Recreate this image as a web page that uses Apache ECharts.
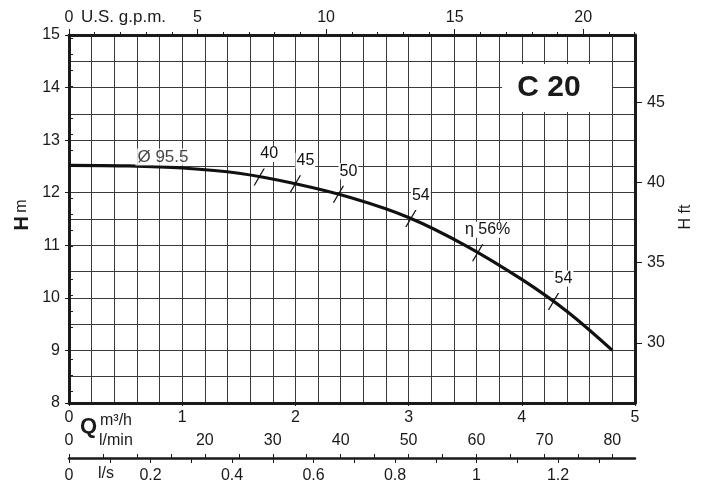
<!DOCTYPE html>
<html><head><meta charset="utf-8">
<script src="https://cdn.jsdelivr.net/npm/echarts@6/dist/echarts.min.js"></script>
<style>html,body{margin:0;padding:0;background:#fff}#c{width:708px;height:487px}</style>
</head><body><div id="c"></div>
<script>
// ---- data ----
const qM3h  = [0, 0.5, 1, 1.5, 2, 2.5, 3, 3.5, 4, 4.4, 4.8];
const headM = [12.52, 12.51, 12.47, 12.37, 12.17, 11.90, 11.53, 11.00, 10.35, 9.74, 9.00];
const effQ      = [1.68, 2.0, 2.38, 3.02, 3.61, 4.28];
const effH      = [12.30, 12.17, 11.97, 11.51, 10.86, 9.93];
const effLabels = ['40', '45', '50', '54', 'η 56%', '54'];
const curveName = 'Ø 95.5';
const curveNameAt = [0.83, 12.68];
const gpmLabels  = [0, 5, 10, 15, 20];
const gpmTicks   = [1,2,3,4,6,7,8,9,11,12,13,14,16,17,18,19,21,22];
const ftLabels   = [30, 35, 40, 45];
const ftTicks    = [27,28,29,31,32,33,34,36,37,38,39,41,42,43,44,46,47,48,49];
const lminLabels = [0, 20, 30, 40, 50, 60, 70, 80];
const lminTicks  = [0,5,10,15,20,25,30,35,40,45,50,55,60,65,70,75,80];
const lsLabels   = [0, 0.2, 0.4, 0.6, 0.8, 1, 1.2];
const lsTicks    = [0,0.1,0.2,0.3,0.4,0.5,0.6,0.7,0.8,0.9,1,1.1,1.2,1.3];
const Q_MAX = 5, H_MIN = 8, H_MAX = 15;
const GPM = 4.402868, FT = 3.28084, LMIN = 16.666667, LS = 0.2777778;

const FONT = "'Liberation Sans', Arial, sans-serif";
const TXT = '#1a1a1a';
const AX = '#1a1a1a';
const GRIDC = '#3a3a3a';
const f = (s, w) => (w ? w + ' ' : '') + s + "px 'Liberation Sans', Arial, sans-serif";

const chart = echarts.init(document.getElementById('c'));
chart.setOption({
  animation: false,
  textStyle: {fontFamily: FONT, color: TXT},
  grid: [
    {left: 69, right: 73, top: 35, height: 368},
    {left: 69, right: 73, top: 458, height: 0}
  ],
  xAxis: [
    {gridIndex: 0, type: 'value', min: 0, max: Q_MAX, interval: 1, position: 'bottom',
     axisLine: {show: true, lineStyle: {color: AX, width: 3}},
     axisTick: {show: true, length: 3, lineStyle: {color: AX}},
     axisLabel: {margin: 7, fontSize: 16, color: TXT, fontFamily: FONT},
     splitLine: {show: true, lineStyle: {color: GRIDC, width: 1}},
     minorTick: {show: false, splitNumber: 5},
     minorSplitLine: {show: true, lineStyle: {color: GRIDC, width: 1}}},
    {gridIndex: 0, type: 'value', min: 0, max: Q_MAX * GPM, position: 'top',
     axisLine: {show: true, onZero: false, lineStyle: {color: AX, width: 3}},
     axisTick: {show: true, length: 6, customValues: gpmLabels, lineStyle: {color: AX}},
     axisLabel: {customValues: gpmLabels, margin: 9, fontSize: 16, color: TXT, fontFamily: FONT},
     splitLine: {show: false}},
    {gridIndex: 0, type: 'value', min: 0, max: Q_MAX * GPM, position: 'top',
     axisLine: {show: false},
     axisTick: {show: true, length: 3, customValues: gpmTicks, lineStyle: {color: AX}},
     axisLabel: {show: false}, splitLine: {show: false}},
    {gridIndex: 1, type: 'value', min: 0, max: Q_MAX * LMIN, position: 'top',
     axisLine: {show: true, onZero: false, lineStyle: {color: AX, width: 2.5}},
     axisTick: {show: true, length: 4, customValues: lminTicks, lineStyle: {color: AX}},
     axisLabel: {customValues: lminLabels, margin: 9, fontSize: 16, color: TXT, fontFamily: FONT},
     splitLine: {show: false}},
    {gridIndex: 1, type: 'value', min: 0, max: Q_MAX * LS, position: 'bottom',
     axisLine: {show: false},
     axisTick: {show: true, length: 5, customValues: lsTicks, lineStyle: {color: AX}},
     axisLabel: {customValues: lsLabels, margin: 10, fontSize: 16, color: TXT, fontFamily: FONT},
     splitLine: {show: false}}
  ],
  yAxis: [
    {gridIndex: 0, type: 'value', min: H_MIN, max: H_MAX, interval: 1, position: 'left',
     axisLine: {show: true, onZero: false, lineStyle: {color: AX, width: 3}},
     axisTick: {show: true, length: 4, lineStyle: {color: AX}},
     axisLabel: {margin: 9, fontSize: 16, color: TXT, fontFamily: FONT},
     splitLine: {show: true, lineStyle: {color: GRIDC, width: 1}},
     minorTick: {show: false, splitNumber: 2},
     minorSplitLine: {show: true, lineStyle: {color: GRIDC, width: 1}}},
    {gridIndex: 0, type: 'value', min: H_MIN * FT, max: H_MAX * FT, position: 'right',
     axisLine: {show: true, onZero: false, lineStyle: {color: AX, width: 3}},
     axisTick: {show: true, length: 7, customValues: ftLabels, lineStyle: {color: AX}},
     axisLabel: {customValues: ftLabels, margin: 12, fontSize: 16, color: TXT, fontFamily: FONT},
     splitLine: {show: false}},
    {gridIndex: 0, type: 'value', min: H_MIN * FT, max: H_MAX * FT, position: 'right',
     axisLine: {show: false},
     axisTick: {show: true, length: 4, customValues: ftTicks, lineStyle: {color: AX}},
     axisLabel: {show: false}, splitLine: {show: false}},
    {gridIndex: 1, type: 'value', min: 0, max: 1, show: false}
  ],
  series: [
    {type: 'line', xAxisIndex: 0, yAxisIndex: 0, smooth: 0.35, symbol: 'none',
     lineStyle: {color: '#111', width: 3.2},
     data: qM3h.map((q, i) => [q, headM[i]]), z: 5},
    {type: 'scatter', xAxisIndex: 0, yAxisIndex: 0,
     symbol: 'path://M0,17 L10,0 L11.4,0 L1.4,17 Z', symbolSize: [11.4, 17],
     itemStyle: {color: '#111', opacity: 1},
     emphasis: {disabled: true},
     label: {show: true, position: 'inside', offset: [10, -23], fontSize: 16, color: '#111',
             textBorderWidth: 0, opacity: 1,
             fontFamily: FONT, backgroundColor: '#fff', padding: [0, 1],
             formatter: p => effLabels[p.dataIndex]},
     data: effQ.map((q, i) => [q, effH[i]]), z: 6},
    {type: 'scatter', xAxisIndex: 0, yAxisIndex: 0, symbolSize: 0,
     emphasis: {disabled: true},
     label: {show: true, position: 'inside', fontSize: 17, color: '#111', textBorderWidth: 0,
             fontFamily: FONT, backgroundColor: '#fff', padding: [0, 2], formatter: curveName},
     data: [curveNameAt], z: 6}
  ],
  graphic: [
    {type: 'rect', shape: {x: 502, y: 64, width: 110, height: 48}, style: {fill: '#fff'}, z: 10},
    {type: 'text', x: 549, y: 88, z: 11,
     style: {text: 'C 20', font: f(30, 'bold'), fill: TXT, textAlign: 'center', textVerticalAlign: 'middle'}},
    {type: 'text', x: 81, y: 17, z: 11,
     style: {text: 'U.S. g.p.m.', font: f(17), fill: TXT, textAlign: 'left', textVerticalAlign: 'middle'}},
    {type: 'text', x: 22, y: 215, rotation: Math.PI / 2, z: 11,
     style: {text: '{b|H} {n|m}', textAlign: 'center', textVerticalAlign: 'middle',
             rich: {b: {font: f(20, 'bold'), fill: TXT}, n: {font: f(16), fill: TXT}}}},
    {type: 'text', x: 686, y: 217, rotation: Math.PI / 2, z: 11,
     style: {text: 'H ft', font: f(16), fill: TXT, textAlign: 'center', textVerticalAlign: 'middle'}},
    {type: 'text', x: 80, y: 427, z: 11,
     style: {text: 'Q', font: f(22, 'bold'), fill: TXT, textAlign: 'left', textVerticalAlign: 'middle'}},
    {type: 'text', x: 100, y: 421, z: 11,
     style: {text: 'm³/h', font: f(16), fill: TXT, textAlign: 'left', textVerticalAlign: 'middle'}},
    {type: 'text', x: 99, y: 441, z: 11,
     style: {text: 'l/min', font: f(16), fill: TXT, textAlign: 'left', textVerticalAlign: 'middle'}},
    {type: 'text', x: 98, y: 474, z: 11,
     style: {text: 'l/s', font: f(16), fill: TXT, textAlign: 'left', textVerticalAlign: 'middle'}}
  ]
});
</script>
</body></html>
